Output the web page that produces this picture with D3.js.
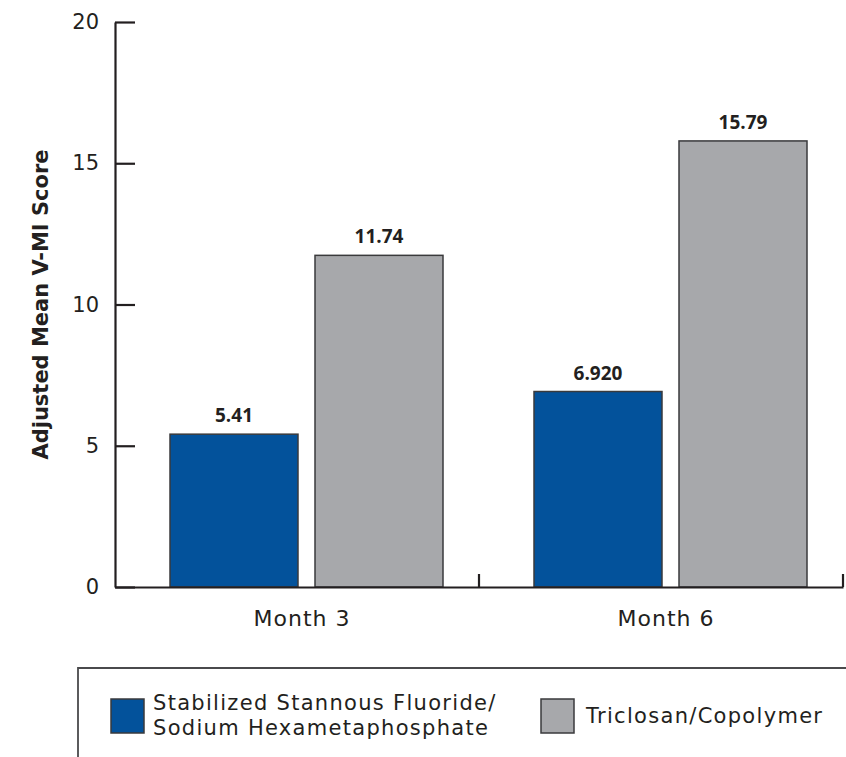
<!DOCTYPE html>
<html>
<head>
<meta charset="utf-8">
<script src="https://cdn.jsdelivr.net/npm/d3@7"></script>
<style>
  html, body { margin: 0; padding: 0; background: #fff; }
  svg { display: block; font-family: "DejaVu Sans", "Open Sans", sans-serif; }
</style>
</head>
<body>
<svg id="chart" width="846" height="757"></svg>
<script>
// Time points and treatment groups
const months = ["Month 3", "Month 6"];
const seriesNames = ["Stabilized Stannous Fluoride/\nSodium Hexametaphosphate", "Triclosan/Copolymer"];
const seriesKeys = ["sfsh", "triclosan"];

// Adjusted mean V-MI score per time point
const sfshValues = [5.41, 6.920];
const triclosanValues = [11.74, 15.79];
// Printed value labels
const sfshLabels = ["5.41", "6.920"];
const triclosanLabels = ["11.74", "15.79"];

// Y axis ticks
const yTicks = [0, 5, 10, 15, 20];
const yTitle = "Adjusted Mean V-MI Score";

const colors = { sfsh: "#03529B", triclosan: "#A7A8AB" };
const ink = "#231F20";
const textFont = "'DejaVu Sans', sans-serif";
const valueFont = "'Open Sans', sans-serif";

const rows = months.map((m, i) => ({
  month: m,
  bars: [
    { key: "sfsh", value: sfshValues[i], label: sfshLabels[i] },
    { key: "triclosan", value: triclosanValues[i], label: triclosanLabels[i] }
  ]
}));

const svg = d3.select("#chart");

const y = d3.scaleLinear().domain([0, 20]).range([587, 22]);
const x0 = d3.scaleBand().domain(months).range([115, 843]).paddingInner(0).paddingOuter(0);
const x1 = d3.scaleBand().domain(seriesKeys).range([55, 328]).paddingInner(17 / 145).paddingOuter(0);

// Bars
const groups = svg.selectAll("g.group")
  .data(rows)
  .join("g")
  .attr("class", "group")
  .attr("transform", d => `translate(${x0(d.month)},0)`);

groups.selectAll("rect")
  .data(d => d.bars)
  .join("rect")
  .attr("x", d => x1(d.key))
  .attr("y", d => y(d.value))
  .attr("width", x1.bandwidth())
  .attr("height", d => y(0) - y(d.value))
  .attr("fill", d => colors[d.key])
  .attr("stroke", "#3a3a3c")
  .attr("stroke-width", 1.5);

groups.selectAll("text.value")
  .data(d => d.bars)
  .join("text")
  .attr("class", "value")
  .attr("x", d => x1(d.key) + x1.bandwidth() / 2)
  .attr("y", d => y(d.value) - 12)
  .attr("text-anchor", "middle")
  .attr("font-family", valueFont)
  .attr("font-size", 19)
  .attr("font-weight", 700)
  .attr("fill", ink)
  .text(d => d.label);

// Y axis
const yAxis = d3.axisLeft(y)
  .tickValues(yTicks)
  .tickFormat(d3.format("d"))
  .tickSizeInner(-20)
  .tickSizeOuter(0)
  .tickPadding(16);

const gy = svg.append("g").attr("transform", "translate(115,0)").call(yAxis);
gy.select(".domain").attr("stroke", ink).attr("stroke-width", 2.2);
gy.selectAll(".tick line").attr("stroke", ink).attr("stroke-width", 2.2);
gy.selectAll(".tick text")
  .attr("font-size", 21)
  .attr("font-family", textFont)
  .attr("fill", ink);

// X axis
const xAxis = d3.axisBottom(x0).tickSize(0).tickPadding(23);
const gx = svg.append("g").attr("transform", `translate(0,${y(0)})`).call(xAxis);
gx.select(".domain").attr("stroke", ink).attr("stroke-width", 2.2);
gx.selectAll(".tick text")
  .attr("font-size", 22)
  .attr("font-family", textFont)
  .attr("letter-spacing", 1)
  .attr("fill", ink)
  .attr("dx", 5);

// Group boundary ticks on the x axis
svg.append("g").selectAll("line")
  .data(months)
  .join("line")
  .attr("x1", d => x0(d) + x0.bandwidth())
  .attr("x2", d => x0(d) + x0.bandwidth())
  .attr("y1", y(0))
  .attr("y2", y(0) - 13)
  .attr("stroke", ink)
  .attr("stroke-width", 2.2);

// Y axis title
svg.append("text")
  .attr("transform", `translate(48,${(y(0) + y(20)) / 2}) rotate(-90)`)
  .attr("text-anchor", "middle")
  .attr("font-family", textFont)
  .attr("font-size", 21)
  .attr("font-weight", 700)
  .attr("fill", ink)
  .text(yTitle);

// Legend
const legend = svg.append("g");
legend.append("path")
  .attr("d", "M78,757 L78,668 L846,668")
  .attr("fill", "none")
  .attr("stroke", "#4a4a4c")
  .attr("stroke-width", 1.8);

const legendPos = [{ sx: 111, tx: 153 }, { sx: 541, tx: 586 }];
seriesKeys.forEach((k, i) => {
  legend.append("rect")
    .attr("x", legendPos[i].sx)
    .attr("y", 699)
    .attr("width", 33)
    .attr("height", 34)
    .attr("fill", colors[k])
    .attr("stroke", "#3a3a3c")
    .attr("stroke-width", 1.5);
  const lines = seriesNames[i].split("\n");
  const t = legend.append("text")
    .attr("font-size", 21)
    .attr("font-family", textFont)
    .attr("letter-spacing", 1.3)
    .attr("fill", ink);
  const firstBase = lines.length > 1 ? 710 : 723;
  lines.forEach((ln, j) => {
    t.append("tspan")
      .attr("x", legendPos[i].tx)
      .attr("y", firstBase + j * 24.5)
      .text(ln);
  });
});
</script>
</body>
</html>
